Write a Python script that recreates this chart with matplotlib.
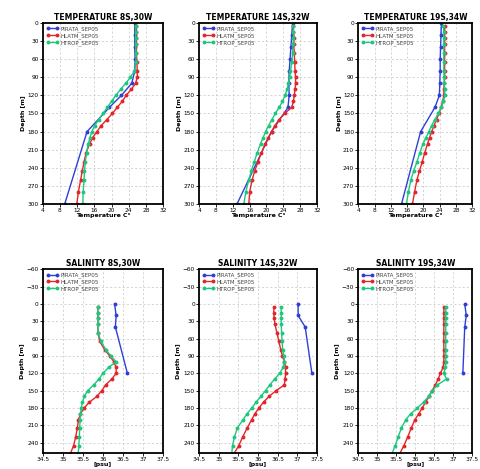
import matplotlib
matplotlib.use("Agg")
import matplotlib.pyplot as plt

# depth levels
pirata_z_temp = [0, 20, 40, 60, 80, 100, 120, 140, 180, 300]
pirata_z_salt = [0, 20, 40, 120]
model_z_temp = [5, 15, 25, 35, 50, 65, 80, 90, 100, 110, 120, 130, 140, 150,
                160, 170, 180, 190, 200, 215, 230, 245, 260, 280, 300]
model_z_salt = [5, 15, 25, 35, 50, 65, 80, 90, 100, 110, 120, 130, 140, 150,
                160, 170, 180, 190, 200, 215, 230, 245, 260]

stations = ["8S,30W", "14S,32W", "19S,34W"]
series_names = ["PIRATA_SEP05", "HLATM_SEP05", "HTROP_SEP05"]

# temperature
pirata_temp_8s = [25.4, 25.4, 25.4, 25.5, 25.4, 24.7, 22.3, 19.5, 14.3, 9.1]
hlatm_temp_8s = [25.8, 25.8, 25.8, 25.8, 25.8, 25.9, 26.0, 26.0, 25.6, 24.6, 23.4, 22.5,
                 21.3, 20.2, 18.9, 17.6, 16.6, 15.6, 14.9, 14.1, 13.6, 13.2, 12.8, 12.3, 11.9]
htrop_temp_8s = [25.6, 25.6, 25.6, 25.6, 25.7, 25.7, 25.3, 24.4, 23.3, 22.1, 21.0, 20.0,
                 19.0, 18.0, 17.0, 16.1, 15.4, 15.0, 14.6, 14.2, 13.9, 13.7, 13.6, 13.4, 13.3]

pirata_temp_14s = [26.2, 26.0, 25.8, 25.6, 25.4, 25.3, 25.4, 25.1, 21.2, 13.0]
hlatm_temp_14s = [26.4, 26.4, 26.5, 26.5, 26.6, 26.7, 26.8, 26.9, 26.9, 26.8, 26.6, 26.4,
                  26.0, 24.3, 23.0, 22.0, 21.2, 20.4, 19.7, 18.8, 18.0, 17.2, 16.6, 16.0, 15.8]
htrop_temp_14s = [26.4, 26.4, 26.4, 26.3, 26.2, 26.0, 25.7, 25.5, 25.2, 24.9, 24.4, 23.8,
                  23.0, 22.1, 21.3, 20.5, 19.8, 19.2, 18.6, 17.8, 17.1, 16.4, 15.8, 15.1, 14.6]

pirata_temp_19s = [24.4, 24.3, 24.2, 24.1, 24.1, 24.0, 23.9, 22.8, 19.3, 14.6]
hlatm_temp_19s = [25.2, 25.2, 25.2, 25.2, 25.2, 25.2, 25.2, 25.2, 25.1, 25.0, 25.0, 24.7,
                  24.3, 23.8, 23.2, 22.6, 22.0, 21.5, 21.0, 20.3, 19.7, 19.0, 18.4, 17.8, 17.3]
htrop_temp_19s = [24.9, 25.0, 25.0, 25.0, 25.0, 25.0, 25.0, 25.1, 25.1, 25.2, 25.2, 24.9,
                  24.4, 23.6, 22.8, 22.0, 21.3, 20.6, 19.9, 19.1, 18.4, 17.6, 16.9, 16.3, 15.8]

# salinity
pirata_salt_8s = [36.29, 36.33, 36.31, 36.61]
hlatm_salt_8s = [35.87, 35.87, 35.87, 35.87, 35.88, 35.92, 36.05, 36.17, 36.27, 36.33, 36.33,
                 36.22, 36.07, 35.97, 35.85, 35.66, 35.53, 35.44, 35.39, 35.36, 35.32, 35.27, 35.18]
htrop_salt_8s = [35.87, 35.87, 35.87, 35.87, 35.88, 35.95, 36.08, 36.20, 36.33, 36.14, 36.00,
                 35.90, 35.77, 35.62, 35.53, 35.49, 35.46, 35.44, 35.43, 35.42, 35.41, 35.40, 35.38]

pirata_salt_14s = [37.02, 37.02, 37.20, 37.37]
hlatm_salt_14s = [36.40, 36.40, 36.41, 36.43, 36.48, 36.53, 36.58, 36.62, 36.67, 36.70, 36.70,
                  36.69, 36.67, 36.46, 36.28, 36.14, 36.02, 35.92, 35.84, 35.72, 35.61, 35.51, 35.38]
htrop_salt_14s = [36.59, 36.59, 36.59, 36.59, 36.60, 36.61, 36.63, 36.66, 36.67, 36.64, 36.55,
                  36.42, 36.30, 36.19, 36.07, 35.95, 35.84, 35.72, 35.62, 35.47, 35.40, 35.35, 35.33]

pirata_salt_19s = [37.30, 37.34, 37.30, 37.25]
hlatm_salt_19s = [36.75, 36.75, 36.75, 36.75, 36.75, 36.75, 36.75, 36.75, 36.75, 36.73, 36.66,
                  36.60, 36.53, 36.44, 36.36, 36.27, 36.18, 36.09, 35.99, 35.89, 35.80, 35.70, 35.58]
htrop_salt_19s = [36.80, 36.80, 36.80, 36.80, 36.80, 36.80, 36.80, 36.80, 36.80, 36.79, 36.75,
                  36.82, 36.58, 36.45, 36.35, 36.22, 36.05, 35.88, 35.75, 35.63, 35.55, 35.47, 35.38]

temp_ticks = [4, 8, 12, 16, 20, 24, 28, 32]
temp_depth_ticks = [0, 30, 60, 90, 120, 150, 180, 210, 240, 270, 300]
salt_ticks = [34.5, 35, 35.5, 36, 36.5, 37, 37.5]
salt_tick_labels = ["34.5", "35", "35.5", "36", "36.5", "37", "37.5"]
salt_depth_ticks = [-60, -30, 0, 30, 60, 90, 120, 150, 180, 210, 240]

colors = ["#2f3fd6", "#e3262a", "#1fc77e"]

temp_data = [
    (pirata_temp_8s, hlatm_temp_8s, htrop_temp_8s),
    (pirata_temp_14s, hlatm_temp_14s, htrop_temp_14s),
    (pirata_temp_19s, hlatm_temp_19s, htrop_temp_19s),
]
salt_data = [
    (pirata_salt_8s, hlatm_salt_8s, htrop_salt_8s),
    (pirata_salt_14s, hlatm_salt_14s, htrop_salt_14s),
    (pirata_salt_19s, hlatm_salt_19s, htrop_salt_19s),
]

fig = plt.figure(figsize=(4.81, 4.69), dpi=100)

lefts = [0.089, 0.414, 0.745]
widths = [0.250, 0.245, 0.237]


def style_axes(ax, title, xlabel):
    ax.set_title(title, fontsize=5.5, fontweight="bold", pad=2)
    ax.set_xlabel(xlabel, fontsize=4.5, fontweight="bold", labelpad=0)
    ax.set_ylabel("Depth [m]", fontsize=4.5, fontweight="bold", labelpad=1)
    ax.tick_params(labelsize=4.2, length=2, width=0.6, pad=1)
    ax.grid(True, color="#c4c4c4", linestyle=(0, (3, 3)), linewidth=0.5)
    for sp in ax.spines.values():
        sp.set_linewidth(1.3)
    leg = ax.legend(loc="upper left", fontsize=4, frameon=False, handlelength=2.2,
                    borderaxespad=0.2, labelspacing=0.2, handletextpad=0.3, numpoints=2)
    for t in leg.get_texts():
        t.set_color("#444444")


for i in range(3):
    ax = fig.add_axes([lefts[i], 0.565, widths[i], 0.386])
    p, h, m = temp_data[i]
    ax.plot(p, pirata_z_temp, "-o", color=colors[0], lw=1.0, ms=1.8, label=series_names[0])
    ax.plot(h, model_z_temp, "-o", color=colors[1], lw=1.0, ms=1.8, label=series_names[1])
    ax.plot(m, model_z_temp, "-o", color=colors[2], lw=1.0, ms=1.8, label=series_names[2])
    ax.set_xlim(4, 32)
    ax.set_ylim(300, 0)
    ax.set_xticks(temp_ticks)
    ax.set_yticks(temp_depth_ticks)
    style_axes(ax, "TEMPERATURE " + stations[i], "Temperature C°")

for i in range(3):
    ax = fig.add_axes([lefts[i], 0.034, widths[i], 0.392])
    p, h, m = salt_data[i]
    ax.plot(p, pirata_z_salt, "-o", color=colors[0], lw=1.0, ms=1.8, label=series_names[0])
    ax.plot(h, model_z_salt, "-o", color=colors[1], lw=1.0, ms=1.8, label=series_names[1])
    ax.plot(m, model_z_salt, "-o", color=colors[2], lw=1.0, ms=1.8, label=series_names[2])
    ax.set_xlim(34.5, 37.5)
    ax.set_ylim(258, -60)
    ax.set_xticks(salt_ticks)
    ax.set_xticklabels(salt_tick_labels)
    ax.set_yticks(salt_depth_ticks)
    style_axes(ax, "SALINITY " + stations[i], "[psu]")

fig.savefig("out.png", dpi=100)
